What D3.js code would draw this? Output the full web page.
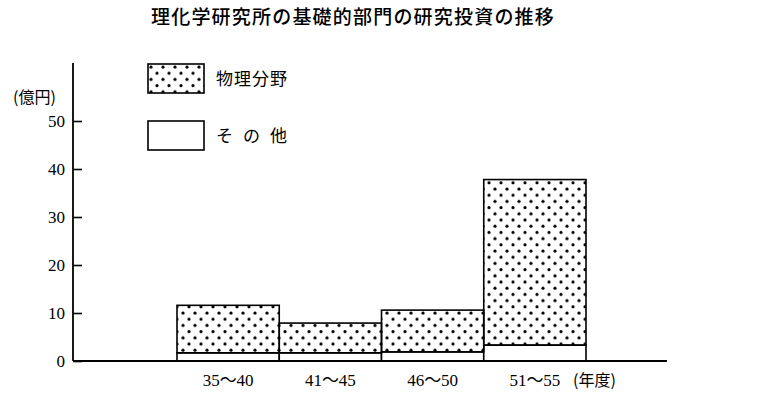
<!DOCTYPE html>
<html>

<head>
    <meta charset="utf-8" />
    <title>理化学研究所の基礎的部門の研究投資の推移</title>
    <script src="https://d3js.org/d3.v7.min.js"></script>
</head>

<body>
    <style>
        body {
            margin: 0;
            background: #fff;
        }
    </style>

    <div class="chart"></div>

    <script>
        // categories (年度) and values in 億円
        var periods = ["35～40", "41～45", "46～50", "51～55"];
        var otherValues = [1.7, 1.7, 1.9, 3.3];      // その他
        var physicsValues = [9.9, 6.2, 8.7, 34.5];   // 物理分野
        var yTicks = [0, 10, 20, 30, 40, 50];

        var seriesNames = ["物理分野", "その他"];

        const w = 757;
        const h = 396;
        const numFont = "'Liberation Serif', 'Noto Sans CJK JP', serif";
        const jpFont = "'Noto Sans CJK JP', sans-serif";

        let svg = d3.select('.chart')
            .append('svg')
            .attr('width', w)
            .attr('height', h);

        // dot pattern for the physics part
        let pat = svg.append('defs')
            .append('pattern')
            .attr('id', 'dots')
            .attr('patternUnits', 'userSpaceOnUse')
            .attr('width', 12)
            .attr('height', 12.4);
        pat.append('circle').attr('cx', 3).attr('cy', 3).attr('r', 1.6).attr('fill', '#000');
        pat.append('circle').attr('cx', 9).attr('cy', 9.2).attr('r', 1.6).attr('fill', '#000');

        // scales
        let x = d3.scaleBand()
            .domain(periods)
            .range([177, 586])
            .padding(0);

        let y = d3.scaleLinear()
            .domain([0, 50])
            .range([361, 121]);

        // title
        svg.append('text')
            .style('font-family', jpFont)
            .attr('x', 353)
            .attr('y', 24)
            .attr('text-anchor', 'middle')
            .attr('font-size', 19)
            .attr('font-weight', 500)
            .attr('letter-spacing', 1.2)
            .text('理化学研究所の基礎的部門の研究投資の推移');

        // bars: "other" at the bottom, physics stacked on top
        let rows = periods.map((p, i) => ({ period: p, other: otherValues[i], physics: physicsValues[i] }));

        svg.selectAll('rect.other')
            .data(rows)
            .enter()
            .append('rect')
            .attr('class', 'other')
            .attr('x', d => x(d.period))
            .attr('width', x.bandwidth())
            .attr('y', d => y(d.other))
            .attr('height', d => y(0) - y(d.other))
            .attr('fill', '#fff')
            .attr('stroke', '#000')
            .attr('stroke-width', 1.6);

        svg.selectAll('rect.physics')
            .data(rows)
            .enter()
            .append('rect')
            .attr('class', 'physics')
            .attr('x', d => x(d.period))
            .attr('width', x.bandwidth())
            .attr('y', d => y(d.other + d.physics))
            .attr('height', d => y(d.other) - y(d.other + d.physics))
            .attr('fill', 'url(#dots)')
            .attr('stroke', '#000')
            .attr('stroke-width', 1.6);

        // y axis, ticks pointing inward
        let yAxis = d3.axisRight(y)
            .tickValues(yTicks)
            .tickSize(9)
            .tickFormat(d3.format('d'));

        let gy = svg.append('g')
            .attr('transform', 'translate(73,0)')
            .call(yAxis);
        gy.select('.domain').remove();
        gy.selectAll('.tick line').attr('stroke', '#000').attr('stroke-width', 1.6);
        gy.selectAll('.tick text')
            .style('font-family', numFont)
            .style('font-size', '17px')
            .attr('x', -8)
            .attr('text-anchor', 'end')
            .attr('fill', '#000');

        svg.append('line')
            .attr('x1', 73).attr('x2', 73)
            .attr('y1', 63).attr('y2', y(0))
            .attr('stroke', '#000')
            .attr('stroke-width', 1.8);

        // x axis: baseline only, labels under bars
        svg.append('line')
            .attr('x1', 73).attr('x2', 667)
            .attr('y1', y(0)).attr('y2', y(0))
            .attr('stroke', '#000')
            .attr('stroke-width', 1.8);

        svg.selectAll('text.xlab')
            .data(periods)
            .enter()
            .append('text')
            .attr('class', 'xlab')
            .style('font-family', numFont)
            .style('font-size', '17px')
            .attr('x', d => x(d) + x.bandwidth() / 2)
            .attr('y', 386)
            .attr('text-anchor', 'middle')
            .text(d => d);

        svg.append('text')
            .style('font-family', jpFont)
            .attr('x', 573)
            .attr('y', 386)
            .attr('font-size', 16)
            .text('(年度)');

        // unit label
        svg.append('text')
            .style('font-family', jpFont)
            .attr('x', 13)
            .attr('y', 103)
            .attr('font-size', 16)
            .text('(億円)');

        // legend
        let legend = svg.selectAll('g.legend')
            .data(seriesNames)
            .enter()
            .append('g')
            .attr('class', 'legend')
            .attr('transform', (d, i) => 'translate(148,' + (64 + i * 57) + ')');

        legend.append('rect')
            .attr('width', 56)
            .attr('height', 29)
            .attr('fill', (d, i) => i === 0 ? 'url(#dots)' : '#fff')
            .attr('stroke', '#000')
            .attr('stroke-width', 1.6);

        legend.append('text')
            .style('font-family', jpFont)
            .attr('x', 68)
            .attr('y', 21)
            .attr('font-size', 17)
            .attr('textLength', 71)
            .attr('lengthAdjust', 'spacing')
            .text(d => d);
    </script>

</body>

</html>
